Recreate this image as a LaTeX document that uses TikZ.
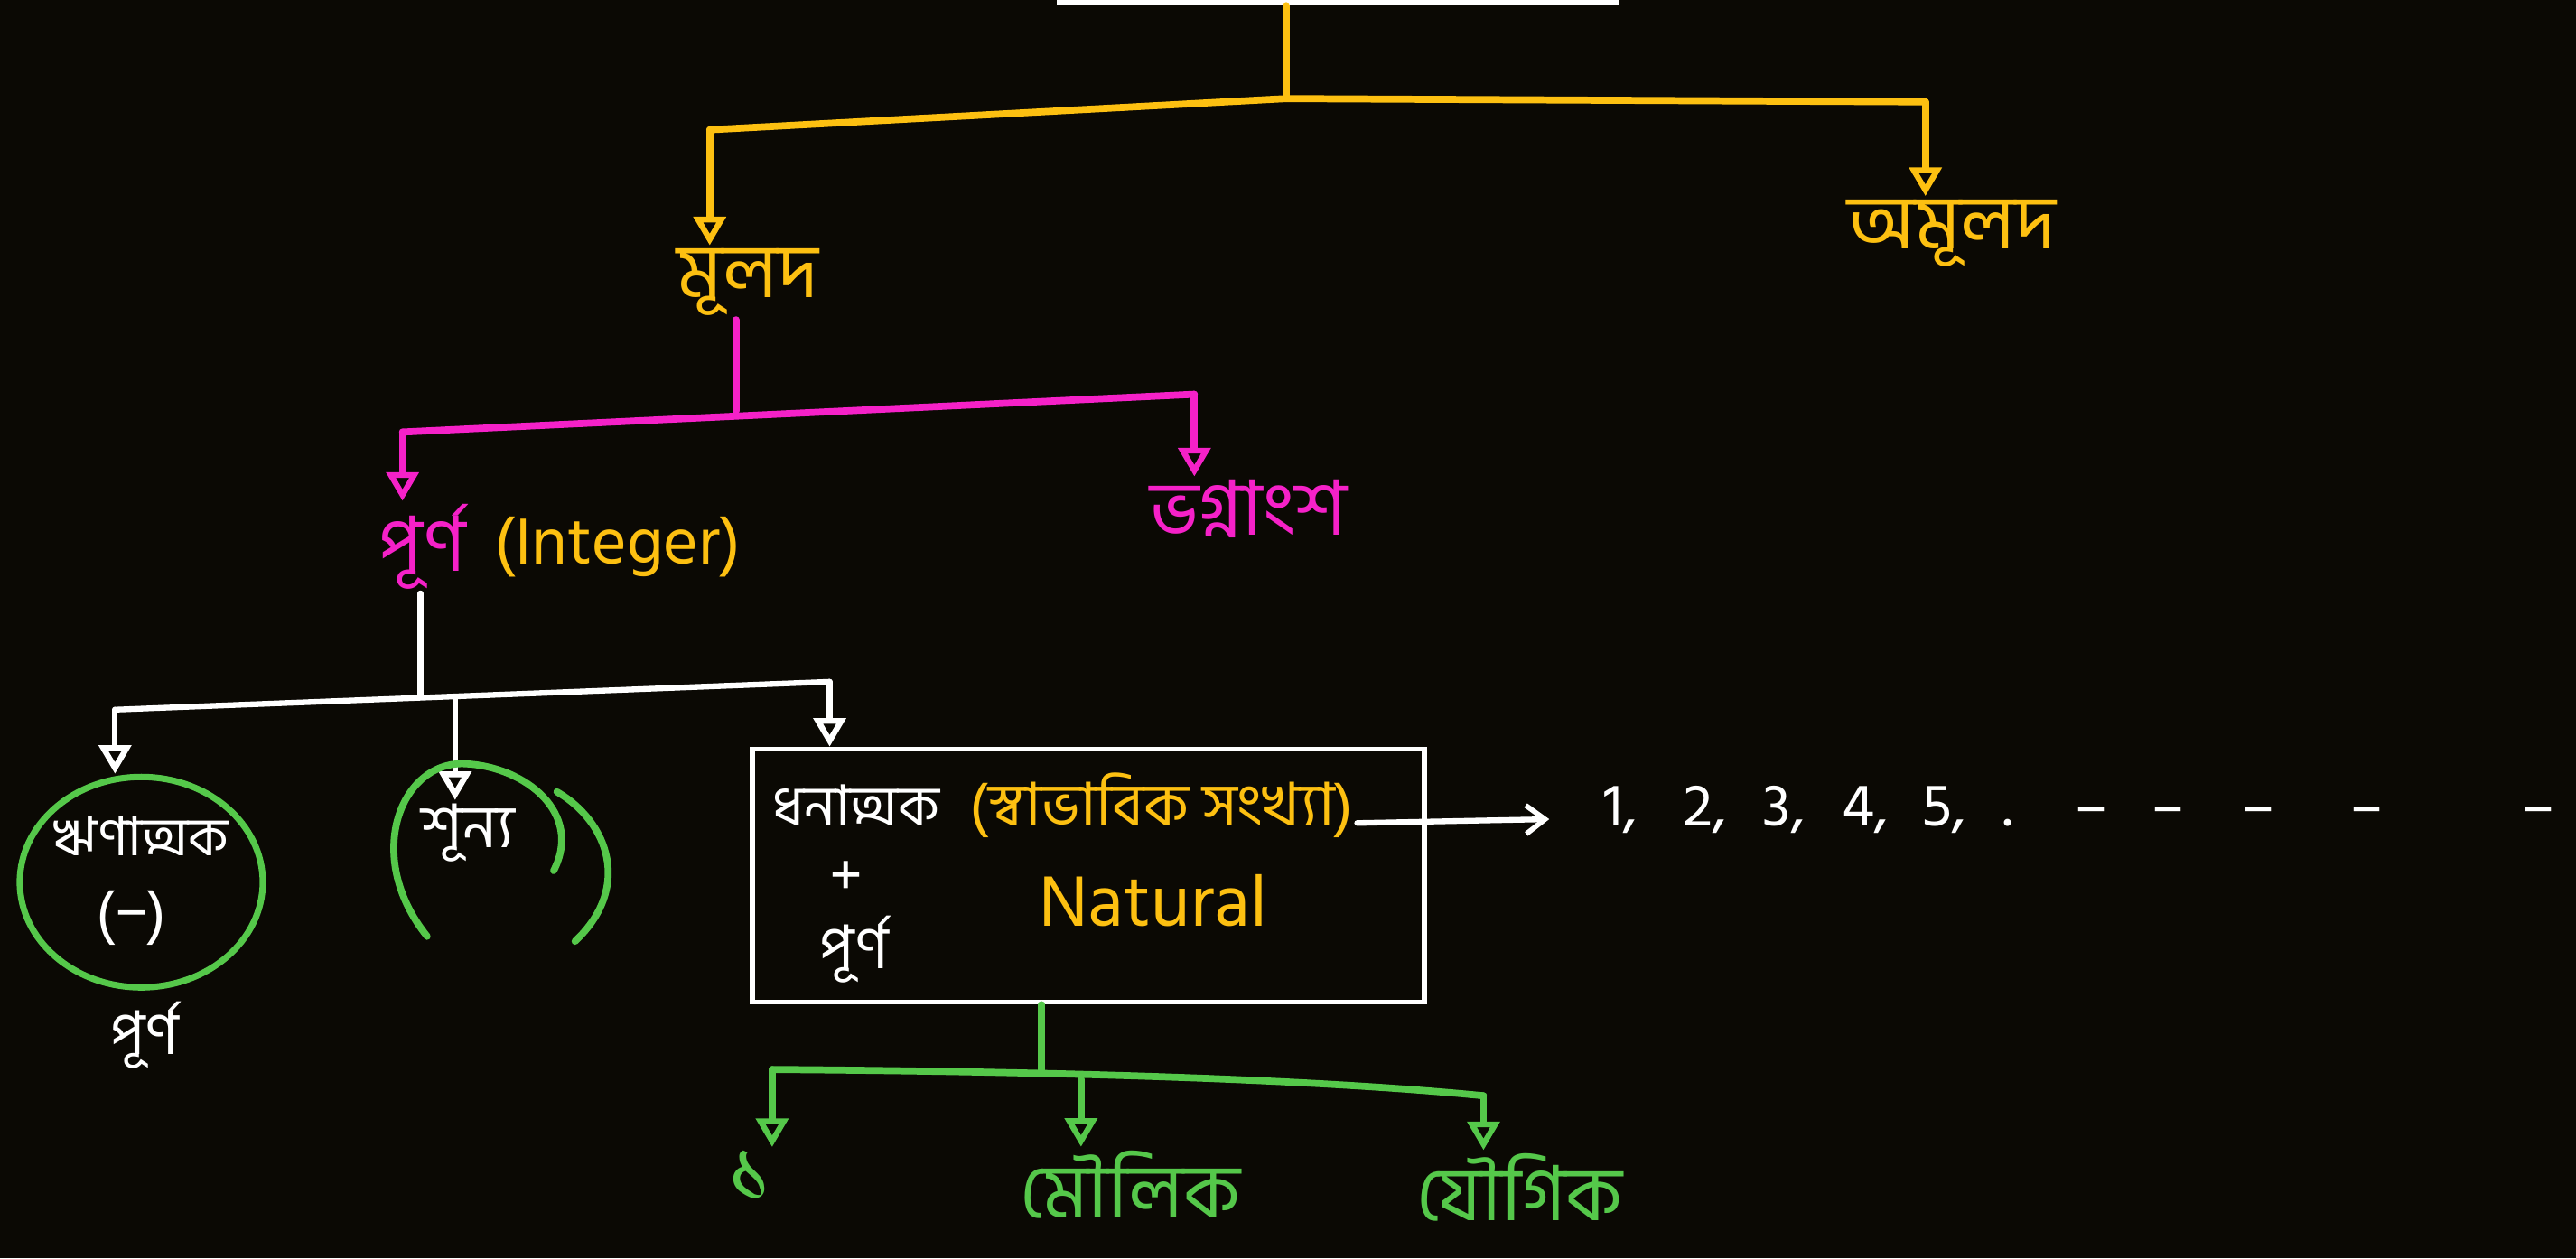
\documentclass[tikz,border=0pt]{standalone}
\usepackage{fontspec}
\setmainfont{Hind Siliguri}
\newfontfamily\bn[Script=Bengali]{Hind Siliguri}
\usetikzlibrary{arrows.meta,shapes.geometric}
\definecolor{bgc}{HTML}{0B0904}
\definecolor{cyel}{HTML}{FDC011}
\definecolor{cmag}{HTML}{F521C8}
\definecolor{cgrn}{HTML}{55C84A}
\newcommand{\sqbox}[2]{\makebox[#1][l]{#2}}
\begin{document}
\begin{tikzpicture}[x=0.01819cm,y=-0.01819cm,
  lbl/.style={font=\bn\fontsize{24}{28}\selectfont, inner sep=1pt},
  slbl/.style={font=\bn\fontsize{19}{22}\selectfont, inner sep=1pt},
  ylw/.style={draw=cyel, line width=2.2pt, line cap=round, line join=round},
  mag/.style={draw=cmag, line width=2.2pt, line cap=round, line join=round},
  wht/.style={draw=white, line width=1.8pt, line cap=round, line join=round},
  grn/.style={draw=cgrn, line width=2.2pt, line cap=round, line join=round},
  tipA/.style={-{Triangle[open,length=9pt,width=10pt,line width=1.8pt]}},
  tipS/.style={-{Straight Barb[length=6pt,width=9pt,line width=1.6pt]}}]
\fill[bgc] (0,0) rectangle (1568,766);
\useasboundingbox (0,0) rectangle (1568,766);

% top bar
\node[fill=white, inner sep=0pt, minimum width=6.22cm, minimum height=0.11cm] (topbar) at (814,0) {};

% yellow level
\coordinate (yJ) at (783,60);
\coordinate (yL) at (432,79);
\coordinate (yR) at (1172,62);
\node[lbl, text=cyel] (mulod) at (455,172) {মূলদ};
\node[lbl, text=cyel] (amulod) at (1188,142) {অমূলদ};
\draw[ylw] (topbar.south -| yJ) -- (yJ);
\draw[ylw] (yL) -- (yJ) -- (yR);
\draw[ylw,tipA] (yL) -- (yL |- mulod.north);
\draw[ylw,tipA] (yR) -- (yR |- amulod.north);

% magenta level
\coordinate (mJ) at (448,250);
\coordinate (mL) at (245,263);
\coordinate (mR) at (727,240);
\node[lbl, text=cmag] (purno) at (257,333) {পূর্ণ};
\node[font=\bn\fontsize{21}{24}\selectfont, inner sep=1pt, text=cyel] (integer) at (376,333) {(Integer)};
\node[lbl, text=cmag] (bhag) at (760,310) {ভগ্নাংশ};
\draw[mag] (mulod.south -| mJ) -- (mJ);
\draw[mag] (mL) -- (mR);
\draw[mag,tipA] (mL) -- (mL |- purno.north);
\draw[mag,tipA] (mR) -- (mR |- bhag.north);

% white level
\coordinate (wJ) at (256,424);
\coordinate (wL) at (70,432);
\coordinate (wM) at (277,425);
\coordinate (wR) at (505,415);
\node[draw=cgrn, line width=2pt, ellipse, minimum width=2.69cm, minimum height=2.33cm] (negc) at (86,537) {};
\node[font=\bn\fontsize{17}{20}\selectfont, inner sep=1pt, text=white] (rin) at (86,509) {ঋণাত্মক};
\node[slbl, text=white] (minus) at (80,559) {(−)};
\node[slbl, text=white] (purnoneg) at (88,630) {পূর্ণ};
\node[slbl, text=white] (shunno) at (285,507) {শূন্য};
\node[draw=white, line width=1.6pt, minimum width=7.44cm, minimum height=2.80cm, inner sep=0pt] (box) at (662.5,533) {};
\node[font=\bn\fontsize{17.5}{20}\selectfont, inner sep=1pt, text=white] (dhon) at (521,490) {ধনাত্মক};
\node[slbl, text=cyel] (sbab) at (707,490) {(স্বাভাবিক সংখ্যা)};
\node[slbl, text=white] (plus) at (515,535) {+};
\node[slbl, text=white] (purnopos) at (520,578) {পূর্ণ};
\node[font=\bn\fontsize{23}{26}\selectfont, inner sep=1pt, text=cyel] (natural) at (702,548) {Natural};
\draw[wht] (purno.south -| wJ) -- (wJ);
\draw[wht] (wL) -- (wR);
\draw[wht,tipA] (wL) -- (wL |- negc.north);
\draw[wht,tipA] (wM) -- (shunno.north -| wM);
\draw[wht,tipA] (wR) -- (wR |- box.north);

% green arcs around shunno
\draw[grn] (260,570) .. controls (220,520) and (245,462) .. (284,465)
  .. controls (320,467) and (355,495) .. (337,530);
\draw[grn] (339,482) .. controls (370,500) and (385,540) .. (350,573);

% sequence
\node[slbl, text=white, anchor=west, inner sep=0pt] (seq) at (976,493)
  {\sqbox{0.88cm}{1,}\sqbox{0.88cm}{2,}\sqbox{0.88cm}{3,}\sqbox{0.88cm}{4,}\sqbox{0.9cm}{5,}\sqbox{0.8cm}{.}\sqbox{0.85cm}{–}\sqbox{1.0cm}{–}\sqbox{1.2cm}{–}\sqbox{1.9cm}{–}–};
\draw[wht,tipS,shorten >=0.6cm] (sbab.east |- 0,501) -- (seq.west |- 0,498);

% green level
\coordinate (gJ) at (634,652);
\coordinate (gL) at (470,651);
\coordinate (gM) at (658,657);
\coordinate (gR) at (903,667);
\node[font=\bn\fontsize{28}{30}\selectfont, inner sep=1pt, text=cgrn] (one) at (457,716) {১};
\node[lbl, text=cgrn] (moulik) at (688,721) {মৌলিক};
\node[lbl, text=cgrn] (yougik) at (925,723) {যৌগিক};
\draw[grn] (box.south -| gJ) -- (gJ);
\draw[grn] (gL) .. controls (600,652) and (780,655) .. (gR);
\draw[grn,tipA] (gL) -- (gL |- one.north);
\draw[grn,tipA] (gM) -- (gM |- moulik.north);
\draw[grn,tipA] (gR) -- (gR |- yougik.north);
\end{tikzpicture}
\end{document}
